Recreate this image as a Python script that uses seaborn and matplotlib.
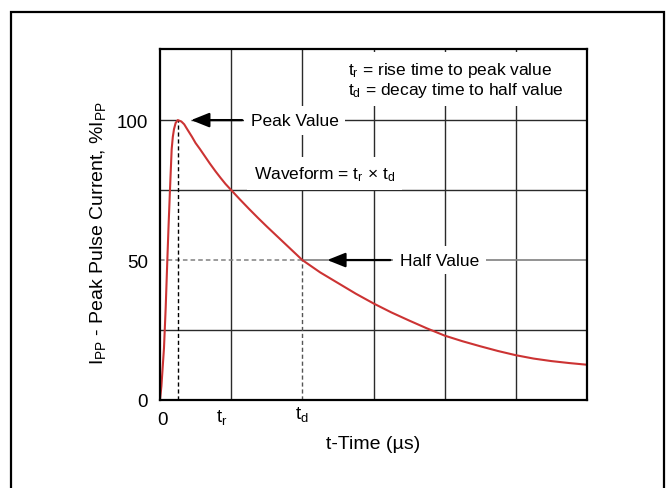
import matplotlib
matplotlib.use("Agg")
import matplotlib.pyplot as plt
import matplotlib.transforms as mtransforms
from matplotlib.patches import Rectangle
import pandas as pd
import seaborn as sns

# ---------------- data ----------------
time_us = [0.0, 0.02, 0.056, 0.08, 0.103, 0.12, 0.14, 0.164, 0.18, 0.197, 0.22, 0.25,
           0.30, 0.34, 0.376, 0.45, 0.5, 0.56, 0.63, 0.70, 0.78, 0.85, 0.92, 1.0, 1.125,
           1.25, 1.375, 1.5, 1.625, 1.75, 1.875, 2.0, 2.25, 2.5, 2.75,
           3.0, 3.25, 3.5, 3.75, 4.0, 4.25, 4.5, 4.75, 5.0, 5.25, 5.5, 5.75, 6.0]
current_pct = [0, 5, 18.6, 33, 50, 62, 75, 89.6, 94, 96.8, 99, 100,
               99.5, 98.5, 97, 94, 91.8, 89.7, 87.1, 84.5, 81.7, 79.4, 77.2, 75, 71.6,
               68.3, 65.1, 62, 59, 56, 53, 50, 45.6, 41.8, 38,
               34.5, 31.3, 28.4, 25.6, 23, 21, 19.2, 17.5, 16, 14.8, 13.9, 13.2, 12.6]

t_peak = 0.25
t_r = 1.0
t_d = 2.0
peak_value = 100
half_value = 50

x_tick_pos = [0, t_r, t_d]
x_tick_labels = ["0", "t$_r$", "t$_d$"]
y_tick_pos = [0, 50, 100]
y_tick_labels = ["0", "50", "100"]
x_grid = [1, 3, 4, 5]
y_grid = [25, 75]

legend_lines = ["t$_r$ = rise time to peak value", "t$_d$ = decay time to half value"]
peak_label = "Peak Value"
half_label = "Half Value"
waveform_label = "Waveform = t$_r$ × t$_d$"
x_label = "t-Time (µs)"
y_label = "I$_{PP}$ - Peak Pulse Current, %I$_{PP}$"

# ---------------- style ----------------
sns.set_style("white")
plt.rcParams["font.family"] = ["Liberation Sans", "DejaVu Sans"]
plt.rcParams["mathtext.default"] = "regular"
plt.rcParams["text.color"] = "black"
plt.rcParams["axes.labelcolor"] = "black"
plt.rcParams["xtick.color"] = "black"
plt.rcParams["ytick.color"] = "black"

W, H = 669, 489
fig = plt.figure(figsize=(W / 100, H / 100), dpi=100)
ax = fig.add_axes([160 / W, 1 - 401 / H, 427 / W, 351 / H])

XMAX, YMAX = 6.0, 125.4
ax.set_xlim(0, XMAX)
ax.set_ylim(0, YMAX)

grid_c = "#2a2a2a"
half_c = "#808080"

# grid lines
ax.vlines(x_grid, 0, YMAX, color=grid_c, lw=1.0, zorder=1)
ax.vlines([t_d], half_value, YMAX, color=grid_c, lw=1.0, zorder=1)
ax.hlines(y_grid, 0, XMAX, color=grid_c, lw=1.0, zorder=1)
# 100% line
tip_peak = 0.437
ax.hlines([peak_value], 0, t_peak, color=grid_c, lw=1.0, zorder=1)
ax.hlines([peak_value], tip_peak, XMAX, color=grid_c, lw=1.0, zorder=1)
# 50% line
ax.hlines([half_value], 0, t_d, color=half_c, lw=1.1, linestyles=(0, (3, 2)), zorder=1)
ax.hlines([half_value], t_d, XMAX, color=half_c, lw=1.2, zorder=1)
# dashed verticals
ax.vlines([t_peak], 0, peak_value, color="black", lw=1.0, linestyles=(0, (3, 2)), zorder=1)
ax.vlines([t_d], 0, half_value, color="#555555", lw=1.0, linestyles=(0, (3, 2)), zorder=1)

# curve
df = pd.DataFrame({"t": time_us, "I": current_pct})
sns.lineplot(data=df, x="t", y="I", ax=ax, color="#cc3333", lw=1.5, sort=False,
             estimator=None, zorder=5)

box = dict(boxstyle="square,pad=0.4", fc="white", ec="none")
FS = 12.5

# annotations
arrow_kw = dict(arrowstyle="-|>,head_length=0.55,head_width=0.22", color="black",
                lw=1.6, shrinkA=0, shrinkB=0, mutation_scale=20)
ax.annotate("", xy=(tip_peak, peak_value), xytext=(1.154, peak_value),
            arrowprops=arrow_kw, zorder=6)
ax.text(1.89, peak_value, peak_label, fontsize=FS, ha="center", va="center",
        bbox=box, zorder=3)

ax.annotate("", xy=(2.35, half_value), xytext=(3.236, half_value),
            arrowprops=arrow_kw, zorder=6)
ax.text(3.93, half_value, half_label, fontsize=FS, ha="center", va="center",
        bbox=box, zorder=3)

ax.text(2.307, 80.9, waveform_label, fontsize=FS, ha="center", va="center",
        bbox=box, zorder=3)

ax.text(2.645, 114.6, "\n".join(legend_lines), fontsize=FS, ha="left", va="center",
        linespacing=1.05,
        bbox=dict(boxstyle="square,pad=0.45", fc="white", ec="none"), zorder=3)

# ticks
ax.set_xticks(x_tick_pos)
ax.set_xticklabels(x_tick_labels)
ax.set_yticks(y_tick_pos)
ax.set_yticklabels(y_tick_labels)
ax.tick_params(axis="both", length=0, labelsize=13.5, colors="black")
ax.tick_params(axis="y", pad=8.5)
ax.tick_params(axis="x", pad=3)

offsets = [(2, -7), (-9, -3), (0, 0)]
for lab, (dx, dy) in zip(ax.get_xticklabels(), offsets):
    lab.set_transform(lab.get_transform() +
                      mtransforms.ScaledTranslation(dx / 100, dy / 100, fig.dpi_scale_trans))

ax.set_xlabel(x_label, fontsize=14)
ax.set_ylabel(y_label, fontsize=14)
ax.xaxis.set_label_coords((373 - 160) / 427, (401 - 436) / 351)
ax.yaxis.set_label_coords((108 - 160) / 427, (401 - 233) / 351)

for s in ax.spines.values():
    s.set_color("black")
    s.set_linewidth(1.6)
    s.set_zorder(7)

# outer frame
fig.patches.append(Rectangle((11 / W, -0.1), (663.5 - 11) / W, 0.1 + 1 - 13 / H,
                             fill=False, ec="black", lw=1.6,
                             transform=fig.transFigure, clip_on=False))

fig.savefig("out.png", dpi=100)
